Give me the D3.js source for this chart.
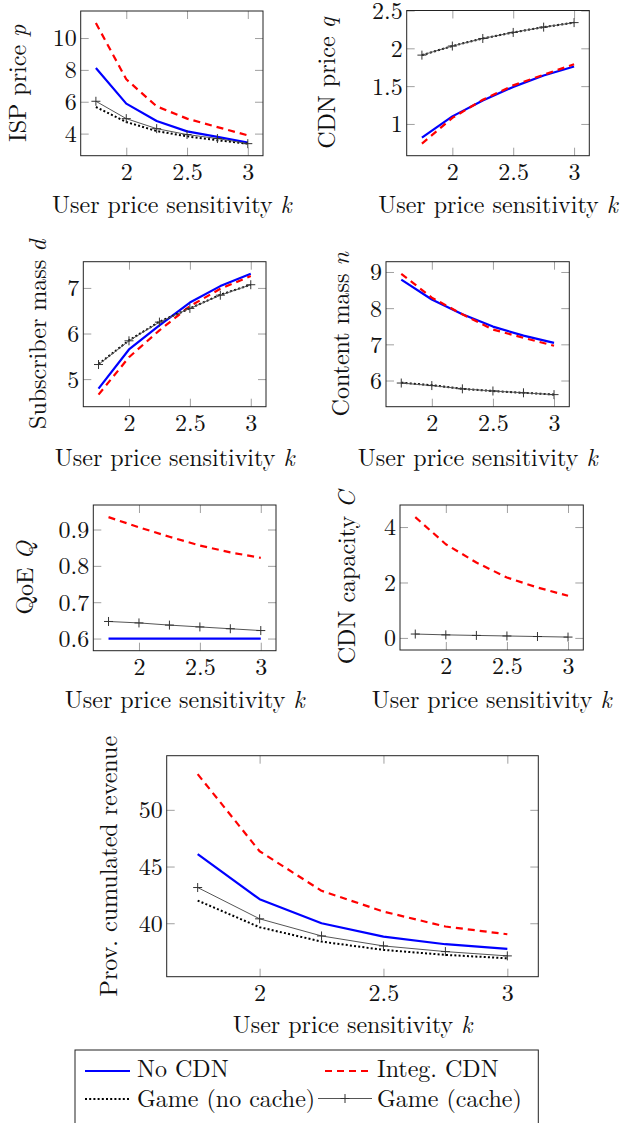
<!DOCTYPE html>
<html><head><meta charset="utf-8">
<script src="https://cdn.jsdelivr.net/npm/d3@7"></script>
<style>
body{margin:0;background:#fff}
svg text{font-family:"Latin Modern Roman","CMU Serif","Liberation Serif",serif;font-size:24px;fill:#111}
</style></head><body>
<svg id="c" width="621" height="1123"></svg>
<script>
// ---------- data ----------
const kValues = [1.75, 2, 2.25, 2.5, 2.75, 3];
const xTicks = [2, 2.5, 3];
const xLabel = "User price sensitivity ";
const seriesNames = ["No CDN", "Integ. CDN", "Game (no cache)", "Game (cache)"];

// ISP price p
const ispNoCdn       = [8.12, 5.88, 4.79, 4.14, 3.79, 3.44];
const ispInteg       = [10.94, 7.41, 5.71, 4.94, 4.41, 3.89];
const ispGameNoCache = [5.67, 4.73, 4.16, 3.83, 3.58, 3.37];
const ispGameCache   = [6.03, 4.94, 4.31, 3.94, 3.69, 3.37];
const ispTicks = [4, 6, 8, 10];

// CDN price q
const cdnPriceNoCdn       = [0.82, 1.10, 1.31, 1.49, 1.64, 1.76];
const cdnPriceInteg       = [0.74, 1.08, 1.32, 1.51, 1.65, 1.79];
const cdnPriceGameNoCache = [1.91, 2.03, 2.13, 2.21, 2.28, 2.34];
const cdnPriceGameCache   = [1.91, 2.03, 2.13, 2.21, 2.28, 2.34];
const cdnPriceTicks = [1, 1.5, 2, 2.5];

// Subscriber mass d
const subNoCdn       = [4.79, 5.65, 6.18, 6.68, 7.04, 7.31];
const subInteg       = [4.66, 5.48, 6.07, 6.60, 6.98, 7.26];
const subGameNoCache = [5.33, 5.85, 6.26, 6.55, 6.85, 7.07];
const subGameCache   = [5.32, 5.84, 6.25, 6.55, 6.84, 7.07];
const subTicks = [5, 6, 7];

// Content mass n
const contNoCdn       = [8.79, 8.24, 7.83, 7.49, 7.24, 7.04];
const contInteg       = [8.95, 8.29, 7.83, 7.41, 7.18, 6.96];
const contGameNoCache = [5.94, 5.87, 5.77, 5.71, 5.66, 5.61];
const contGameCache   = [5.93, 5.86, 5.77, 5.71, 5.66, 5.61];
const contTicks = [6, 7, 8, 9];

// QoE Q
const qoeNoCdn       = [0.6, 0.6, 0.6, 0.6, 0.6, 0.6];
const qoeInteg       = [0.934, 0.906, 0.880, 0.856, 0.837, 0.822];
const qoeGameNoCache = [null, null, null, null, null, null];
const qoeGameCache   = [0.647, 0.643, 0.637, 0.632, 0.627, 0.622];
const qoeTicks = [0.6, 0.7, 0.8, 0.9];

// CDN capacity C
const capNoCdn       = [null, null, null, null, null, null];
const capInteg       = [4.36, 3.38, 2.72, 2.18, 1.82, 1.52];
const capGameNoCache = [null, null, null, null, null, null];
const capGameCache   = [0.14, 0.11, 0.09, 0.07, 0.05, 0.03];
const capTicks = [0, 2, 4];

// Provider cumulated revenue
const revNoCdn       = [46.09, 42.12, 40.00, 38.82, 38.15, 37.74];
const revInteg       = [53.15, 46.35, 42.86, 41.03, 39.71, 39.03];
const revGameNoCache = [42.00, 39.65, 38.38, 37.65, 37.21, 36.91];
const revGameCache   = [43.15, 40.39, 38.88, 38.00, 37.50, 37.12];
const revTicks = [40, 45, 50];

// ---------- styles ----------
const styles = [
  {stroke: "#0000ff", width: 2.2, dash: null, marker: false},
  {stroke: "#ff0000", width: 2.2, dash: "7,5", marker: false},
  {stroke: "#000000", width: 2, dash: "2,2.2", marker: false},
  {stroke: "#555555", width: 1, dash: null, marker: true}
];

// ---------- layout ----------
const panels = [
  {L: 80.7, R: 263, T: 11, B: 155.7, label: "ISP price ", v: "p", lx: 26, xb: 212.5,
   data: [ispNoCdn, ispInteg, ispGameNoCache, ispGameCache], ticks: ispTicks},
  {L: 406.7, R: 589.3, T: 10.5, B: 155.7, label: "CDN price ", v: "q", lx: 335, xb: 212.5,
   data: [cdnPriceNoCdn, cdnPriceInteg, cdnPriceGameNoCache, cdnPriceGameCache], ticks: cdnPriceTicks},
  {L: 83.3, R: 266, T: 261.7, B: 406.7, label: "Subscriber mass ", v: "d", lx: 45.5, xb: 466,
   data: [subNoCdn, subInteg, subGameNoCache, subGameCache], ticks: subTicks},
  {L: 386, R: 569.3, T: 261.7, B: 406.7, label: "Content mass ", v: "n", lx: 348.5, xb: 466,
   data: [contNoCdn, contInteg, contGameNoCache, contGameCache], ticks: contTicks},
  {L: 93.3, R: 276, T: 505, B: 650.7, label: "QoE ", v: "Q", lx: 33, xb: 708,
   data: [qoeNoCdn, qoeInteg, qoeGameNoCache, qoeGameCache], ticks: qoeTicks},
  {L: 400, R: 583.3, T: 505, B: 650, label: "CDN capacity ", v: "C", lx: 355, xb: 708,
   data: [capNoCdn, capInteg, capGameNoCache, capGameCache], ticks: capTicks, zero: true},
  {L: 166.7, R: 538.3, T: 755.7, B: 976.7, label: "Prov. cumulated revenue", v: "", lx: 116.5, xb: 1033,
   data: [revNoCdn, revInteg, revGameNoCache, revGameCache], ticks: revTicks}
];

const svg = d3.select("#c");
const tickColor = "#a0a0a0", tickLen = 8;

function plusPath(x, y, s) {
  return `M${x - s},${y}H${x + s}M${x},${y - s}V${y + s}`;
}

panels.forEach(p => {
  const g = svg.append("g");
  const xMin = d3.min(kValues), xMax = d3.max(kValues), xr = xMax - xMin;
  const x = d3.scaleLinear().domain([xMin - 0.1 * xr, xMax + 0.1 * xr]).range([p.L, p.R]);
  const all = p.data.flat().filter(v => v != null);
  let yMin = d3.min(all), yMax = d3.max(all);
  if (p.zero) yMin = Math.min(0, yMin);
  const yr = yMax - yMin;
  const y = d3.scaleLinear().domain([yMin - 0.1 * yr, yMax + 0.1 * yr]).range([p.B, p.T]);

  const axB = d3.axisBottom(x).tickValues(xTicks).tickSize(-tickLen).tickFormat(d3.format("~g"));
  const axT = d3.axisTop(x).tickValues(xTicks).tickSize(-tickLen).tickFormat("");
  const axL = d3.axisLeft(y).tickValues(p.ticks).tickSize(-tickLen).tickFormat(d3.format("~g"));
  const axR = d3.axisRight(y).tickValues(p.ticks).tickSize(-tickLen).tickFormat("");
  const gb = g.append("g").attr("transform", `translate(0,${p.B})`).call(axB);
  const gt = g.append("g").attr("transform", `translate(0,${p.T})`).call(axT);
  const gl = g.append("g").attr("transform", `translate(${p.L},0)`).call(axL);
  const gr = g.append("g").attr("transform", `translate(${p.R},0)`).call(axR);
  [gb, gt, gl, gr].forEach(a => {
    a.select(".domain").remove();
    a.selectAll("line").attr("stroke", tickColor).attr("stroke-width", 1);
    a.attr("font-size", null).attr("font-family", null);
  });
  gb.selectAll("text").attr("y", 24).attr("dy", null);
  gl.selectAll("text").attr("x", -4).attr("dy", "0.33em");

  const line = d3.line().defined(d => d[1] != null).x(d => x(d[0])).y(d => y(d[1]));
  p.data.forEach((arr, i) => {
    const st = styles[i];
    const pts = kValues.map((k, j) => [k, arr[j]]);
    if (pts.every(d => d[1] == null)) return;
    g.append("path").attr("d", line(pts)).attr("fill", "none")
      .attr("stroke", st.stroke).attr("stroke-width", st.width)
      .attr("stroke-dasharray", st.dash).attr("stroke-linejoin", "round");
    if (st.marker) {
      g.append("path").attr("d", pts.filter(d => d[1] != null).map(d => plusPath(x(d[0]), y(d[1]), 4.5)).join(""))
        .attr("stroke", "#333").attr("stroke-width", 1).attr("fill", "none");
    }
  });

  g.append("rect").attr("x", p.L).attr("y", p.T).attr("width", p.R - p.L).attr("height", p.B - p.T)
    .attr("fill", "none").attr("stroke", "#222").attr("stroke-width", 1);

  const xt = g.append("text").attr("x", (p.L + p.R) / 2).attr("y", p.xb).attr("text-anchor", "middle");
  xt.append("tspan").text(xLabel);
  xt.append("tspan").attr("font-style", "italic").text("k");
  const yt = g.append("text").attr("transform", `translate(${p.lx},${(p.T + p.B) / 2}) rotate(-90)`).attr("text-anchor", "middle");
  yt.append("tspan").text(p.label);
  if (p.v) yt.append("tspan").attr("font-style", "italic").text(p.v);
});

// ---------- legend ----------
const leg = svg.append("g");
leg.append("rect").attr("x", 75).attr("y", 1050).attr("width", 463.3).attr("height", 90)
  .attr("fill", "#fff").attr("stroke", "#222").attr("stroke-width", 1);
const legItems = [
  {x0: 85, x1: 130, tx: 137, ly: 1071, ty: 1076.5},
  {x0: 325, x1: 370, tx: 377, ly: 1071, ty: 1076.5},
  {x0: 85, x1: 130, tx: 137, ly: 1099, ty: 1106.5},
  {x0: 318, x1: 372, tx: 377, ly: 1098.5, ty: 1106.5}
];
seriesNames.forEach((name, i) => {
  const it = legItems[i], st = styles[i];
  leg.append("line").attr("x1", it.x0).attr("x2", it.x1).attr("y1", it.ly).attr("y2", it.ly)
    .attr("stroke", st.stroke).attr("stroke-width", st.width).attr("stroke-dasharray", st.dash);
  if (st.marker) {
    leg.append("path").attr("d", plusPath((it.x0 + it.x1) / 2, it.ly, 4.5)).attr("stroke", "#333").attr("stroke-width", 1);
  }
  leg.append("text").attr("x", it.tx).attr("y", it.ty).text(name);
});
</script>
</body></html>
